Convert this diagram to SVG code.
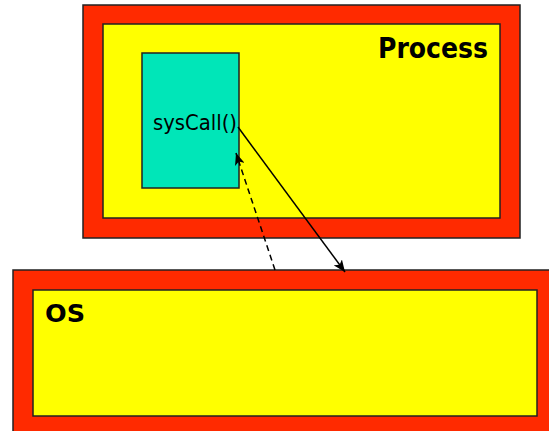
<svg xmlns="http://www.w3.org/2000/svg" width="549" height="431" viewBox="0 0 549 431">
  <defs>
    <style>
      .frame { fill: #ff2a00; stroke: #222; stroke-width: 1.5; }
      .panel { fill: #ffff00; stroke: #222; stroke-width: 1.5; }
      .call { fill: #00e6b8; stroke: #222; stroke-width: 1.5; }
      .title { font-family: "DejaVu Sans", Verdana, sans-serif; font-weight: bold; fill: #000; }
      .label { font-family: "DejaVu Sans", Verdana, sans-serif; fill: #000; }
      .link { stroke: #000; stroke-width: 1.5; fill: none; }
    </style>
    <marker id="head" viewBox="0 0 12 10" refX="12" refY="5" markerWidth="12" markerHeight="10" markerUnits="userSpaceOnUse" orient="auto">
      <path d="M0,0 L12,5 L0,10 L3,5 z" fill="#000"/>
    </marker>
  </defs>

  <rect width="549" height="431" fill="#fff"/>

  <!-- user process -->
  <g id="process">
    <rect class="frame" x="83" y="5" width="437" height="233"/>
    <rect class="panel" x="103" y="24" width="397" height="194"/>
    <text class="title" x="378" y="58" font-size="28" textLength="110" lengthAdjust="spacingAndGlyphs">Process</text>
  </g>

  <!-- system call site inside the process -->
  <g id="syscall">
    <rect class="call" x="142" y="53" width="97" height="135"/>
    <text class="label" x="153" y="130" font-size="21" textLength="84" lengthAdjust="spacingAndGlyphs">sysCall()</text>
  </g>

  <!-- operating system -->
  <g id="os">
    <rect class="frame" x="13" y="270" width="545" height="170"/>
    <rect class="panel" x="33" y="290" width="504" height="126"/>
    <text class="title" x="45" y="322" font-size="24" textLength="40" lengthAdjust="spacingAndGlyphs">OS</text>
  </g>

  <!-- call into the kernel and return -->
  <g id="connectors">
    <line class="link" x1="238" y1="127" x2="345" y2="272" marker-end="url(#head)"/>
    <line class="link" x1="275" y1="270" x2="236" y2="153" stroke-dasharray="6,4" marker-end="url(#head)"/>
  </g>
</svg>
